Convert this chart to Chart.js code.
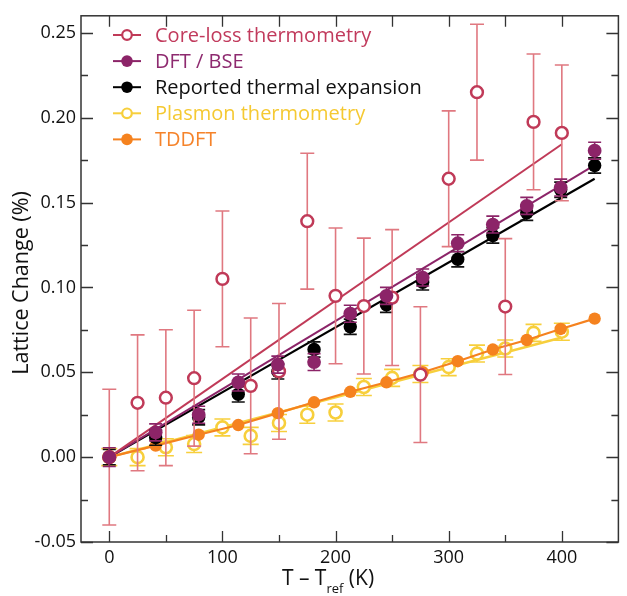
<!DOCTYPE html>
<html>
<head>
<meta charset="utf-8">
<script src="https://cdn.jsdelivr.net/npm/chart.js@4.4.0/dist/chart.umd.min.js"></script>
<style>
  html, body { margin: 0; padding: 0; background: #fff; }
  #wrap { width: 627px; height: 596px; }
</style>
</head>
<body>
<div id="wrap"><canvas id="lattice"></canvas></div>
<script>
// core-loss thermometry (open red circles, big error bars)
var coreT   = [0, 25, 50, 75, 100, 125, 150, 175, 200, 225, 250, 275, 300, 325, 350, 375, 400];
var coreVal = [0.000, 0.032, 0.035, 0.0465, 0.105, 0.042, 0.0505, 0.139, 0.095, 0.089, 0.094, 0.0486, 0.164, 0.215, 0.0887, 0.1975, 0.191];
var coreErr = [0.04, 0.04, 0.04, 0.04, 0.04, 0.04, 0.04, 0.04, 0.04, 0.04, 0.04, 0.04, 0.04, 0.04, 0.04, 0.04, 0.04];

// DFT / BSE, reported thermal expansion and TDDFT share temperatures
var calcT       = [0, 41, 79, 114, 149, 181, 213, 245, 277, 308, 339, 369, 399, 429];
var dftVal      = [0, 0.0146, 0.025, 0.044, 0.0545, 0.056, 0.0845, 0.095, 0.1058, 0.126, 0.137, 0.148, 0.1588, 0.1805];
var dftErr      = [0.0055, 0.005, 0.005, 0.005, 0.005, 0.005, 0.005, 0.005, 0.005, 0.005, 0.005, 0.005, 0.005, 0.005];
var reportedVal = [0, 0.0115, 0.0235, 0.037, 0.0505, 0.0634, 0.0768, 0.0898, 0.103, 0.1166, 0.1306, 0.144, 0.1575, 0.1718];
var reportedErr = [0.0045, 0.0045, 0.0045, 0.0045, 0.0045, 0.0045, 0.0045, 0.0045, 0.0045, 0.0045, 0.0045, 0.0045, 0.0045, 0.0045];
var tddftVal    = [0, 0.0068, 0.0132, 0.0189, 0.0259, 0.0323, 0.0385, 0.0441, 0.050, 0.0565, 0.0634, 0.069, 0.0755, 0.0816];

// plasmon thermometry (open yellow circles)
var plasmonT   = [0, 25, 50, 75, 100, 125, 150, 175, 200, 225, 250, 275, 300, 325, 350, 375, 400];
var plasmonVal = [0, 0.000, 0.0058, 0.0077, 0.0175, 0.0125, 0.0201, 0.025, 0.0263, 0.0413, 0.0467, 0.049, 0.053, 0.061, 0.064, 0.0732, 0.0739];
var plasmonErr = [0.005, 0.005, 0.005, 0.005, 0.005, 0.005, 0.005, 0.005, 0.005, 0.005, 0.005, 0.005, 0.005, 0.005, 0.005, 0.005, 0.005];

// linear fits (end points)
var coreFitT = [0, 400],    coreFitVal = [0, 0.1843];
var dftFitT = [0, 429],     dftFitVal = [0, 0.172];
var reportedFitT = [0, 429], reportedFitVal = [0, 0.164];
var plasmonFitT = [0, 400], plasmonFitVal = [0, 0.0705];

var xTicks = [0, 100, 200, 300, 400];
var yTicks = [-0.05, 0.00, 0.05, 0.10, 0.15, 0.20, 0.25];

var FONT = '"Open Sans", "DejaVu Sans", sans-serif';
var RED = '#c03a58', RED_ERR = '#e07880', PURPLE = '#8c2468', YELLOW = '#f7cf3c', ORANGE = '#f5821f';

function pts(xs, ys) {
  return xs.map(function (x, i) { return { x: x, y: ys[i] }; });
}

var legendItems = [
  { text: 'Core-loss thermometry', color: RED, textColor: '#c13a5c', open: true },
  { text: 'DFT / BSE', color: PURPLE, textColor: '#8e2a6f', open: false },
  { text: 'Reported thermal expansion', color: '#000', textColor: '#111', open: false },
  { text: 'Plasmon thermometry', color: YELLOW, textColor: '#f5c932', open: true },
  { text: 'TDDFT', color: ORANGE, textColor: '#f5832a', open: false }
];

var extras = {
  id: 'extras',
  beforeDatasetDraw: function (chart, args) {
    var ds = chart.data.datasets[args.index];
    if (!ds.errors) return;
    var ctx = chart.ctx, ys = chart.scales.y;
    ctx.save();
    ctx.strokeStyle = ds.errColor;
    ctx.lineWidth = 1.6;
    args.meta.data.forEach(function (p, i) {
      var v = ds.data[i].y, e = ds.errors[i];
      var top = ys.getPixelForValue(v + e), bot = ys.getPixelForValue(v - e);
      var hw = ds.capWidth / 2;
      ctx.beginPath();
      ctx.moveTo(p.x, top); ctx.lineTo(p.x, bot);
      ctx.moveTo(p.x - hw, top); ctx.lineTo(p.x + hw, top);
      ctx.moveTo(p.x - hw, bot); ctx.lineTo(p.x + hw, bot);
      ctx.stroke();
    });
    ctx.restore();
  },
  afterDraw: function (chart) {
    var ctx = chart.ctx, a = chart.chartArea;
    var xs = chart.scales.x, ys = chart.scales.y;
    ctx.save();
    // frame
    ctx.strokeStyle = '#333';
    ctx.lineWidth = 1.5;
    ctx.strokeRect(a.left, a.top, a.right - a.left, a.bottom - a.top);
    // inward ticks
    ctx.lineWidth = 1.3;
    ctx.beginPath();
    for (var v = -0.05; v <= 0.2501; v += 0.025) {
      var py = Math.round(ys.getPixelForValue(v)) + 0.5;
      var major = Math.abs(Math.round(v / 0.05) * 0.05 - v) < 1e-6;
      var len = major ? 12 : 7;
      ctx.moveTo(a.left, py); ctx.lineTo(a.left + len, py);
      ctx.moveTo(a.right, py); ctx.lineTo(a.right - len, py);
    }
    for (var t = 0; t <= 400; t += 50) {
      var px = Math.round(xs.getPixelForValue(t)) + 0.5;
      var lenB = (t % 100 === 0) ? 11 : 7;
      ctx.moveTo(px, a.bottom); ctx.lineTo(px, a.bottom - lenB);
      ctx.moveTo(px, a.top); ctx.lineTo(px, a.top + 11);
    }
    ctx.stroke();

    // legend
    legendItems.forEach(function (it, i) {
      var y = 35 + i * 26.1;
      ctx.strokeStyle = it.color;
      ctx.lineWidth = 2;
      ctx.beginPath();
      ctx.moveTo(113, y); ctx.lineTo(141, y);
      ctx.stroke();
      ctx.beginPath();
      if (it.open) {
        ctx.arc(127, y, 4.8, 0, Math.PI * 2);
        ctx.fillStyle = '#fff';
        ctx.fill();
        ctx.lineWidth = 2.2;
        ctx.stroke();
      } else {
        ctx.arc(127, y, 5.8, 0, Math.PI * 2);
        ctx.fillStyle = it.color;
        ctx.fill();
      }
      ctx.fillStyle = it.textColor;
      ctx.font = '20px ' + FONT;
      ctx.textAlign = 'left';
      ctx.textBaseline = 'middle';
      ctx.fillText(it.text, 155, y + 1);
    });

    // x axis title with subscript
    ctx.fillStyle = '#111';
    ctx.textBaseline = 'alphabetic';
    ctx.textAlign = 'left';
    var big = '21px ' + FONT, small = '13px ' + FONT;
    var p1 = 'T \u2013 T', p2 = 'ref', p3 = ' (K)';
    ctx.font = big; var w1 = ctx.measureText(p1).width, w3 = ctx.measureText(p3).width;
    ctx.font = small; var w2 = ctx.measureText(p2).width;
    var x0 = 328 - (w1 + w2 + w3) / 2;
    ctx.font = big; ctx.fillText(p1, x0, 585);
    ctx.font = small; ctx.fillText(p2, x0 + w1, 593);
    ctx.font = big; ctx.fillText(p3, x0 + w1 + w2, 585);

    // y axis title
    ctx.translate(22, 283);
    ctx.rotate(-Math.PI / 2);
    ctx.textAlign = 'center';
    ctx.textBaseline = 'middle';
    ctx.font = '21.5px ' + FONT;
    ctx.fillText('Lattice Change (%)', 0, 0);
    ctx.restore();
  }
};

new Chart(document.getElementById('lattice'), {
  type: 'scatter',
  data: {
    datasets: [
      { label: 'Plasmon fit', data: pts(plasmonFitT, plasmonFitVal), showLine: true, borderColor: YELLOW, borderWidth: 2.5, pointRadius: 0, order: 20 },
      { label: 'Reported fit', data: pts(reportedFitT, reportedFitVal), showLine: true, borderColor: '#000', borderWidth: 2.2, pointRadius: 0, order: 19 },
      { label: 'DFT fit', data: pts(dftFitT, dftFitVal), showLine: true, borderColor: PURPLE, borderWidth: 2, pointRadius: 0, order: 18 },
      { label: 'Core-loss fit', data: pts(coreFitT, coreFitVal), showLine: true, borderColor: RED, borderWidth: 2, pointRadius: 0, order: 17 },
      { label: 'Plasmon thermometry', data: pts(plasmonT, plasmonVal), errors: plasmonErr, errColor: YELLOW, capWidth: 16,
        pointRadius: 6, pointBorderWidth: 2.6, pointBackgroundColor: '#fff', pointBorderColor: YELLOW, order: 8 },
      { label: 'TDDFT', data: pts(calcT, tddftVal), showLine: true, borderColor: ORANGE, borderWidth: 2.2,
        pointRadius: 6.2, pointBorderWidth: 0, pointBackgroundColor: ORANGE, order: 7 },
      { label: 'Reported thermal expansion', data: pts(calcT, reportedVal), errors: reportedErr, errColor: '#111', capWidth: 13,
        pointRadius: 6.7, pointBorderWidth: 0, pointBackgroundColor: '#000', order: 6 },
      { label: 'Core-loss thermometry', data: pts(coreT, coreVal), errors: coreErr, errColor: RED_ERR, capWidth: 14,
        pointRadius: 5.9, pointBorderWidth: 2.5, pointBackgroundColor: '#fff', pointBorderColor: RED, order: 5 },
      { label: 'DFT / BSE', data: pts(calcT, dftVal), errors: dftErr, errColor: PURPLE, capWidth: 13,
        pointRadius: 6.9, pointBorderWidth: 0, pointBackgroundColor: PURPLE, order: 4 }
    ]
  },
  options: {
    responsive: true,
    maintainAspectRatio: false,
    animation: false,
    events: [],
    layout: { padding: { top: 3, right: 2, left: 0, bottom: 0 } },
    plugins: { legend: { display: false }, tooltip: { enabled: false } },
    scales: {
      x: {
        type: 'linear', min: -25, max: 450,
        afterFit: function (s) { s.height = 54; },
        afterBuildTicks: function (s) { s.ticks = xTicks.map(function (v) { return { value: v }; }); },
        grid: { display: false, drawTicks: false },
        border: { display: false },
        ticks: { font: { family: FONT, size: 18 }, color: '#111', padding: 5, maxRotation: 0 }
      },
      y: {
        type: 'linear', min: -0.05, max: 0.26,
        afterFit: function (s) { s.width = 81; },
        afterBuildTicks: function (s) { s.ticks = yTicks.map(function (v) { return { value: v }; }); },
        grid: { display: false, drawTicks: false },
        border: { display: false },
        ticks: {
          font: { family: FONT, size: 18 }, color: '#111', padding: 5,
          callback: function (v) { return (Math.abs(v) < 1e-9 ? 0 : v).toFixed(2); }
        }
      }
    }
  },
  plugins: [extras]
});
</script>
</body>
</html>
